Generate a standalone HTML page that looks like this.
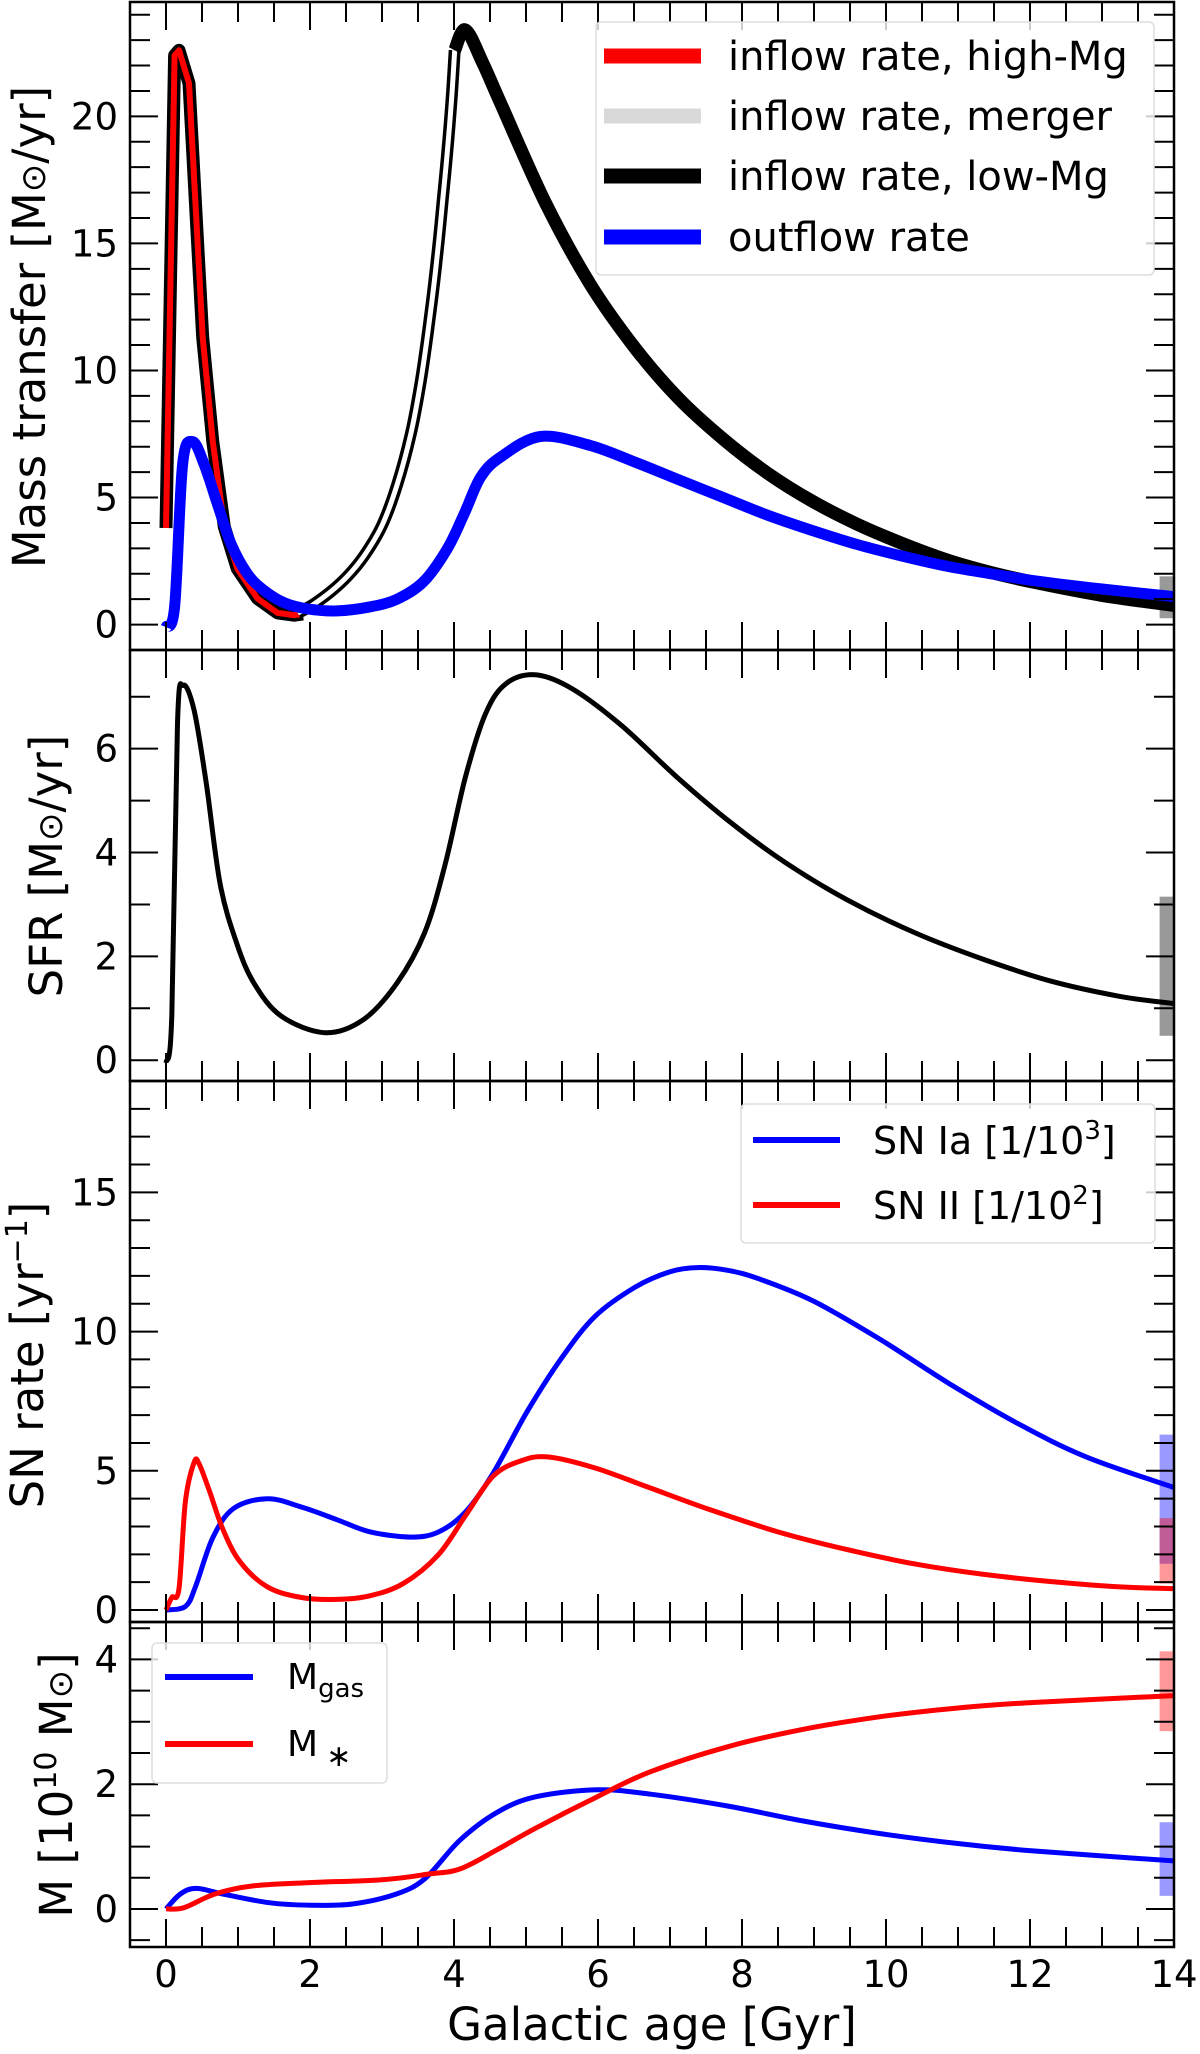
<!DOCTYPE html>
<html><head><meta charset="utf-8"><style>
html,body{margin:0;padding:0;background:#fff;}
svg{display:block;font-family:"DejaVu Sans","Liberation Sans",sans-serif;}
</style></head><body>
<svg id="chart" xmlns="http://www.w3.org/2000/svg" width="1200" height="2054" viewBox="0 0 1200 2054">
<rect x="0" y="0" width="1200" height="2054" fill="#fff"/>
<g id="plots"></g>
</svg>
<script>
// ---- data (time in Gyr) ----
const highMgT = [0, 0.12, 0.18, 0.32, 0.51, 0.65, 0.81, 0.99, 1.27, 1.55, 1.78, 1.9];
const highMgV = [3.8, 22.4, 22.6, 21.3, 11.3, 7.2, 3.85, 2.2, 1.03, 0.46, 0.37, 0.42];
const mergerT = [1.83, 2.05, 2.29, 2.52, 2.75, 3.0, 3.21, 3.4, 3.54, 3.67, 3.77, 3.85, 3.91, 3.97, 4.01];
const mergerV = [0.45, 0.8, 1.3, 1.9, 2.7, 3.9, 5.5, 7.5, 9.6, 12.2, 14.6, 16.9, 18.7, 20.8, 22.6];
const lowMgT = [4.01, 4.16, 4.4, 4.65, 5.27, 5.89, 6.51, 7.12, 7.74, 8.36, 8.98, 9.6, 10.22, 10.84, 11.46, 12.08, 13, 14];
const lowMgV = [22.6, 23.4, 22.1, 20.5, 16.6, 13.4, 10.9, 8.9, 7.3, 5.95, 4.85, 3.95, 3.2, 2.55, 2.05, 1.65, 1.15, 0.75];
const outflowT = [0, 0.12, 0.23, 0.37, 0.53, 0.72, 0.9, 1.13, 1.36, 1.64, 1.96, 2.38, 2.84, 3.21, 3.58, 3.91, 4.14, 4.37, 4.65, 5.2, 5.89, 6.51, 7.12, 7.74, 8.36, 8.98, 9.6, 10.22, 10.84, 11.46, 12.08, 13, 14];
const outflowV = [-0.1, 0.7, 6.3, 7.2, 6.3, 4.7, 3.2, 2.0, 1.35, 0.86, 0.62, 0.54, 0.7, 1.0, 1.7, 3.0, 4.35, 5.8, 6.6, 7.4, 7.05, 6.4, 5.7, 5.0, 4.3, 3.7, 3.15, 2.7, 2.3, 2.0, 1.72, 1.4, 1.1];
const sfrT = [0, 0.08, 0.16, 0.24, 0.39, 0.56, 0.75, 0.98, 1.22, 1.6, 2.21, 2.74, 3.21, 3.59, 3.87, 4.16, 4.44, 4.73, 5.15, 5.67, 6.34, 7.09, 7.85, 8.61, 9.46, 10.41, 11.36, 12.3, 13.25, 14];
const sfrV = [-0.05, 0.85, 6.49, 7.22, 6.74, 5.33, 3.41, 2.26, 1.49, 0.85, 0.53, 0.78, 1.49, 2.45, 3.73, 5.46, 6.68, 7.26, 7.42, 7.13, 6.43, 5.46, 4.57, 3.8, 3.09, 2.45, 1.94, 1.52, 1.23, 1.09];
const snIaT = [0, 0.27, 0.41, 0.65, 0.94, 1.41, 1.88, 2.36, 2.83, 3.4, 3.78, 4.16, 4.54, 5.01, 5.48, 5.96, 6.52, 7.0, 7.38, 7.8, 8.23, 8.99, 9.93, 10.88, 11.83, 12.78, 14];
const snIaV = [0, 0.13, 0.84, 2.6, 3.65, 4.0, 3.7, 3.26, 2.81, 2.62, 2.8, 3.52, 4.9, 7.1, 9.0, 10.55, 11.6, 12.15, 12.3, 12.2, 11.9, 11.1, 9.7, 8.13, 6.7, 5.5, 4.4];
const snIIT = [0, 0.08, 0.18, 0.27, 0.39, 0.46, 0.6, 0.79, 1.03, 1.41, 1.88, 2.36, 2.83, 3.3, 3.78, 4.16, 4.54, 4.92, 5.3, 5.96, 6.71, 7.56, 8.51, 9.46, 10.41, 11.36, 12.3, 13.25, 14];
const snIIV = [0, 0.45, 0.77, 3.9, 5.3, 5.25, 4.3, 2.9, 1.73, 0.83, 0.45, 0.38, 0.51, 0.96, 1.98, 3.39, 4.8, 5.35, 5.5, 5.1, 4.4, 3.6, 2.8, 2.17, 1.65, 1.28, 1.02, 0.83, 0.77];
const mgasT = [0, 0.2, 0.42, 0.79, 1.43, 2.01, 2.59, 3.2, 3.6, 4.08, 4.6, 5.14, 5.99, 6.73, 7.8, 8.85, 9.91, 10.98, 12.04, 14];
const mgasV = [0, 0.24, 0.33, 0.24, 0.1, 0.06, 0.08, 0.24, 0.49, 1.1, 1.55, 1.8, 1.91, 1.84, 1.65, 1.41, 1.21, 1.05, 0.93, 0.77];
const mstarT = [0, 0.25, 0.68, 1.21, 1.96, 3.02, 3.65, 4.08, 4.6, 5.14, 5.99, 6.73, 7.8, 8.85, 9.91, 10.98, 12.04, 14];
const mstarV = [0, 0.02, 0.24, 0.37, 0.42, 0.47, 0.56, 0.64, 0.95, 1.3, 1.8, 2.2, 2.6, 2.88, 3.08, 3.22, 3.31, 3.42];
// present-day observational ranges at t = 14 Gyr [low, high]
const obsInflow = [0.25, 1.9];
const obsSfr = [0.47, 3.15];
const obsSnIa = [1.66, 6.3];
const obsSnII = [0.95, 3.3];
const obsMstar = [2.85, 4.13];
const obsMgas = [0.21, 1.39];
const obsT = 14;
// tick labels
const xTicks = [0, 2, 4, 6, 8, 10, 12, 14];
const p1Ticks = [0, 5, 10, 15, 20];
const p2Ticks = [0, 2, 4, 6];
const p3Ticks = [0, 5, 10, 15];
const p4Ticks = [0, 2, 4];

const NS = 'http://www.w3.org/2000/svg';
const root = document.getElementById('plots');
const X0 = 130, X1 = 1174, XMIN = -0.5, XMAX = 14;
function sx(t){ return X0 + (t - XMIN) / (XMAX - XMIN) * (X1 - X0); }
function mk(tag, attrs, parent){
  const e = document.createElementNS(NS, tag);
  for (const k in attrs) e.setAttribute(k, attrs[k]);
  (parent || root).appendChild(e);
  return e;
}
const panels = [
  {top: 2, bottom: 650, ymin: -1.0, ymax: 24.5, major: 5, minor: 1, ticks: p1Ticks, name: 'mass-transfer-panel'},
  {top: 650, bottom: 1081, ymin: -0.4, ymax: 7.9, major: 2, minor: 1, ticks: p2Ticks, name: 'sfr-panel'},
  {top: 1081, bottom: 1622, ymin: -0.43, ymax: 19.0, major: 5, minor: 1, ticks: p3Ticks, name: 'sn-rate-panel'},
  {top: 1622, bottom: 1947, ymin: -0.61, ymax: 4.6, major: 2, minor: 0.5, ticks: p4Ticks, name: 'mass-panel'}
];
panels.forEach((p, i) => {
  p.sy = v => p.bottom - (v - p.ymin) / (p.ymax - p.ymin) * (p.bottom - p.top);
  const cp = mk('clipPath', {id: 'clip' + i});
  mk('rect', {x: X0, y: p.top, width: X1 - X0, height: p.bottom - p.top}, cp);
  p.g = mk('g', {'clip-path': 'url(#clip' + i + ')'});
  
  
});

function smoothPath(T, V, p, linear){
  const pts = T.map((t, i) => [sx(t), p.sy(V[i])]);
  let d = 'M' + pts[0][0].toFixed(1) + ',' + pts[0][1].toFixed(1);
  for (let i = 0; i < pts.length - 1; i++){
    if (linear){ d += 'L' + pts[i+1][0].toFixed(1) + ',' + pts[i+1][1].toFixed(1); continue; }
    const p0 = pts[Math.max(0, i-1)], p1 = pts[i], p2 = pts[i+1], p3 = pts[Math.min(pts.length-1, i+2)];
    const c1 = [p1[0] + (p2[0]-p0[0])/6, p1[1] + (p2[1]-p0[1])/6];
    const c2 = [p2[0] - (p3[0]-p1[0])/6, p2[1] - (p3[1]-p1[1])/6];
    d += 'C' + c1[0].toFixed(1) + ',' + c1[1].toFixed(1) + ' ' + c2[0].toFixed(1) + ',' + c2[1].toFixed(1) + ' ' + p2[0].toFixed(1) + ',' + p2[1].toFixed(1);
  }
  return d;
}
function line(p, T, V, color, w, name, linear){
  const e = mk('path', {d: smoothPath(T, V, p, linear), fill: 'none', stroke: color, 'stroke-width': w, 'stroke-linejoin': 'round', 'stroke-linecap': 'butt'}, p.g);
  
  
  return e;
}
function bar(p, range, color, name){
  const e = mk('rect', {x: sx(obsT - 0.2), y: p.sy(range[1]), width: sx(obsT + 0.2) - sx(obsT - 0.2), height: p.sy(range[0]) - p.sy(range[1]), fill: color, 'fill-opacity': 0.4}, p.g);
  
  
}

// Panel 1
const P1 = panels[0];
bar(P1, obsInflow, '#000', 'inflow-observed-range');
line(P1, highMgT, highMgV, '#000', 13, 'inflow-high-mg-outline', true);
line(P1, highMgT, highMgV, '#ff0000', 6, 'inflow-high-mg-line', true);
line(P1, mergerT, mergerV, '#000', 12, 'inflow-merger-outline');
line(P1, mergerT, mergerV, '#ffffff', 5, 'inflow-merger-line');
line(P1, lowMgT, lowMgV, '#000', 13, 'inflow-low-mg-line');
line(P1, outflowT, outflowV, '#0000ff', 11, 'outflow-rate-line');
// Panel 2
const P2 = panels[1];
bar(P2, obsSfr, '#000', 'sfr-observed-range');
line(P2, sfrT, sfrV, '#000', 5, 'sfr-line');
// Panel 3
const P3 = panels[2];
bar(P3, obsSnIa, '#0000ff', 'sn-ia-observed-range');
bar(P3, obsSnII, '#ff0000', 'sn-ii-observed-range');
line(P3, snIaT, snIaV, '#0000ff', 5, 'sn-ia-line');
line(P3, snIIT, snIIV, '#ff0000', 5, 'sn-ii-line');
// Panel 4
const P4 = panels[3];
bar(P4, obsMstar, '#ff0000', 'stellar-mass-observed-range');
bar(P4, obsMgas, '#0000ff', 'gas-mass-observed-range');
line(P4, mgasT, mgasV, '#0000ff', 5, 'gas-mass-line');
line(P4, mstarT, mstarV, '#ff0000', 5, 'stellar-mass-line');

// axes, ticks
const MAJ = 28, MIN = 20;
panels.forEach((p, i) => {
  const ax = mk('g', {stroke: '#000', 'stroke-width': 2});
  
  
  for (let k = 0; k <= 29; k++){
    const t = k * 0.5; const isMaj = (k % 4 === 0); const L = isMaj ? MAJ : MIN;
    mk('line', {x1: sx(t), x2: sx(t), y1: p.bottom, y2: p.bottom - L}, ax);
    mk('line', {x1: sx(t), x2: sx(t), y1: p.top, y2: p.top + L}, ax);
  }
  const start = Math.ceil(p.ymin / p.minor) * p.minor;
  for (let v = start; v <= p.ymax + 1e-9; v += p.minor){
    const vv = Math.round(v * 100) / 100;
    const isMaj = Math.abs(vv / p.major - Math.round(vv / p.major)) < 1e-6;
    const L = isMaj ? MAJ : MIN;
    mk('line', {x1: X0, x2: X0 + L, y1: p.sy(vv), y2: p.sy(vv)}, ax);
    mk('line', {x1: X1, x2: X1 - L, y1: p.sy(vv), y2: p.sy(vv)}, ax);
  }
  const fr = mk('rect', {x: X0, y: p.top, width: X1 - X0, height: p.bottom - p.top, fill: 'none', stroke: '#000', 'stroke-width': 2.5});
  
  
  p.ticks.forEach(v => {
    const tx = mk('text', {x: 118, y: p.sy(v) + 13, 'font-size': 37, 'text-anchor': 'end', fill: '#000'});
    tx.textContent = v;
    
    
  });
});
xTicks.forEach(t => {
  const tx = mk('text', {x: sx(t), y: 1987, 'font-size': 37, 'text-anchor': 'middle', fill: '#000'});
  tx.textContent = t;
  
  
});
</script>
<script>
const S = document.getElementById('chart');
S.insertAdjacentHTML('beforeend', `
<text x="652" y="2040" font-size="45" text-anchor="middle">Galactic age [Gyr]</text>
<text transform="translate(45,327) rotate(-90)" font-size="45" text-anchor="middle">Mass transfer [M<tspan font-size="34">⊙</tspan>/yr]</text>
<text transform="translate(62,866) rotate(-90)" font-size="45" text-anchor="middle">SFR [M<tspan font-size="34">⊙</tspan>/yr]</text>
<text transform="translate(43,1355) rotate(-90)" font-size="45" text-anchor="middle">SN rate [yr<tspan font-size="30" dy="-16">−1</tspan><tspan dy="16">]</tspan></text>
<text transform="translate(72,1785) rotate(-90)" font-size="45" text-anchor="middle">M [10<tspan font-size="30" dy="-16">10</tspan><tspan dy="16"> M</tspan><tspan font-size="34">⊙</tspan>]</text>

<g>
<rect x="596" y="22" width="558" height="253" rx="5" fill="#fff" fill-opacity="0.8" stroke="#ddd" stroke-width="1.5"/>
<line x1="604" x2="701" y1="56" y2="56" stroke="#ff0000" stroke-width="15"/>
<text x="728" y="70" font-size="40">inflow rate, high-Mg</text>
<line x1="604" x2="701" y1="116" y2="116" stroke="#d9d9d9" stroke-width="15"/>
<text x="728" y="130" font-size="40">inflow rate, merger</text>
<line x1="604" x2="701" y1="176" y2="176" stroke="#000" stroke-width="15"/>
<text x="728" y="190" font-size="40">inflow rate, low-Mg</text>
<line x1="604" x2="701" y1="237" y2="237" stroke="#0000ff" stroke-width="15"/>
<text x="728" y="251" font-size="40">outflow rate</text>
</g>

<g>
<rect x="741" y="1104" width="414" height="139" rx="5" fill="#fff" fill-opacity="0.8" stroke="#ddd" stroke-width="1.5"/>
<line x1="753" x2="840" y1="1140" y2="1140" stroke="#0000ff" stroke-width="6"/>
<text x="873" y="1154" font-size="38">SN Ia [1/10<tspan font-size="26" dy="-15">3</tspan><tspan dy="15">]</tspan></text>
<line x1="753" x2="840" y1="1205" y2="1205" stroke="#ff0000" stroke-width="6"/>
<text x="873" y="1219" font-size="38">SN II [1/10<tspan font-size="26" dy="-15">2</tspan><tspan dy="15">]</tspan></text>
</g>

<g>
<rect x="152" y="1643" width="235" height="140" rx="5" fill="#fff" fill-opacity="0.8" stroke="#ddd" stroke-width="1.5"/>
<line x1="165" x2="253" y1="1677" y2="1677" stroke="#0000ff" stroke-width="6"/>
<text x="287" y="1689" font-size="36">M<tspan font-size="26" dy="8">gas</tspan></text>
<line x1="165" x2="253" y1="1744" y2="1744" stroke="#ff0000" stroke-width="6"/>
<text x="287" y="1756" font-size="36">M<tspan font-size="30" dx="8" dy="10">∗</tspan></text>
</g>
`);
</script>
</body></html>
